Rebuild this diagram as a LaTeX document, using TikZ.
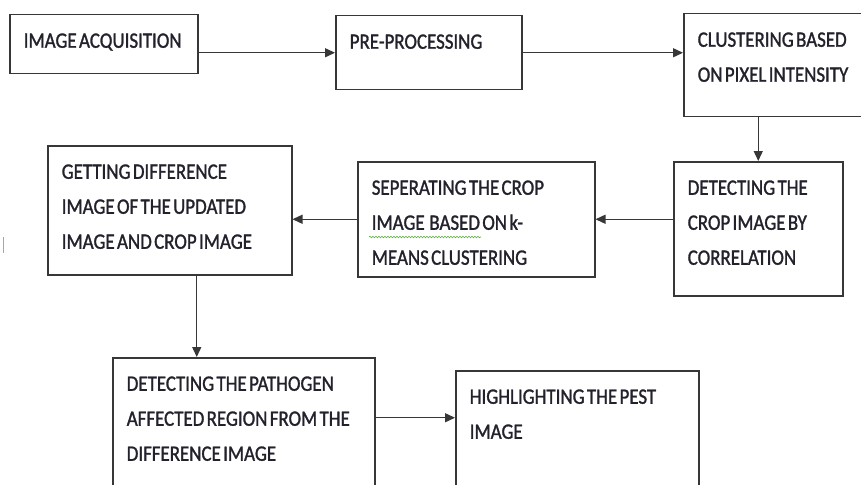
\documentclass[tikz,border=0pt]{standalone}
\usepackage{fontspec}
\setmainfont[FakeStretch=0.86,WordSpace=0.55,FakeBold=1.3]{Carlito}
\usetikzlibrary{arrows.meta}
\usetikzlibrary{calc, decorations.pathmorphing}
\definecolor{boxline}{RGB}{55,55,55}
\definecolor{boxtext}{RGB}{34,34,44}
\definecolor{spellgreen}{RGB}{96,176,64}

\newcommand{\stagefont}{\fontsize{22}{35}\selectfont}
\newcommand{\stagetext}[3]{\parbox[c][#2pt][t]{#1pt}{\raggedright\leftskip=14pt\rule{0pt}{33pt}#3}}

\tikzset{
  stage/.style={draw=boxline, line width=1.5pt, inner sep=0pt, anchor=north west, text=boxtext, font=\stagefont},
  flow/.style={draw=boxline, line width=1.4pt, -{Triangle[length=10pt,width=9pt]}}
}

\begin{document}
\begin{tikzpicture}[x=1pt, y=-1pt]

    \useasboundingbox (0,0) rectangle (861,484);
    \clip (0,0) rectangle (861,484);

    % top row
    \node[stage] (acq) at (9,14) {\stagetext{188}{59}{IMAGE ACQUISITION}};
    \node[stage] (pre) at (335,15) {\stagetext{186}{74}{PRE-PROCESSING}};
    \node[stage] (clus) at (683,13) {\stagetext{200}{103}{CLUSTERING BASED\\ON PIXEL INTENSITY}};

    % middle row
    \node[stage] (corr) at (673,161) {\stagetext{169}{134}{DETECTING THE\\CROP IMAGE BY\\CORRELATION}};
    \node[stage] (sep) at (357,161) {\stagetext{237}{115}{SEPERATING THE CROP\\IMAGE\ \ BASED ON k-\\MEANS CLUSTERING}};
    \node[stage] (diff) at (47,145) {\stagetext{244}{129}{GETTING DIFFERENCE\\IMAGE OF THE UPDATED\\IMAGE AND CROP IMAGE}};

    % bottom row
    \node[stage] (path) at (112,357) {\stagetext{262}{140}{DETECTING THE PATHOGEN\\AFFECTED REGION FROM THE\\DIFFERENCE IMAGE}};
    \node[stage] (hl) at (455,370) {\stagetext{243}{130}{HIGHLIGHTING THE PEST\\IMAGE}};

    \draw[flow] (acq.east |- pre.west) -- (pre.west);
    \draw[flow] (pre.east) -- (pre.east -| clus.west);
    \draw[flow] (clus.south -| corr.north) -- (corr.north);
    \draw[flow] (corr.west |- sep.east) -- (sep.east);
    \draw[flow] (sep.west) -- (sep.west -| diff.east);
    \draw[flow] ([xshift=27pt]diff.south) -- ([xshift=27pt]diff.south |- path.north);
    \draw[flow] ([yshift=10pt]path.east) -- ([yshift=10pt]path.east -| hl.west);

    % spell check mark and stray cursor
    \draw[spellgreen, line width=0.6pt, decorate, decoration={snake, amplitude=0.8pt, segment length=3pt}] (369,237) -- (481,237);
    \draw[black!35, line width=1pt] (3,237) -- (3,253);

\end{tikzpicture}
\end{document}
